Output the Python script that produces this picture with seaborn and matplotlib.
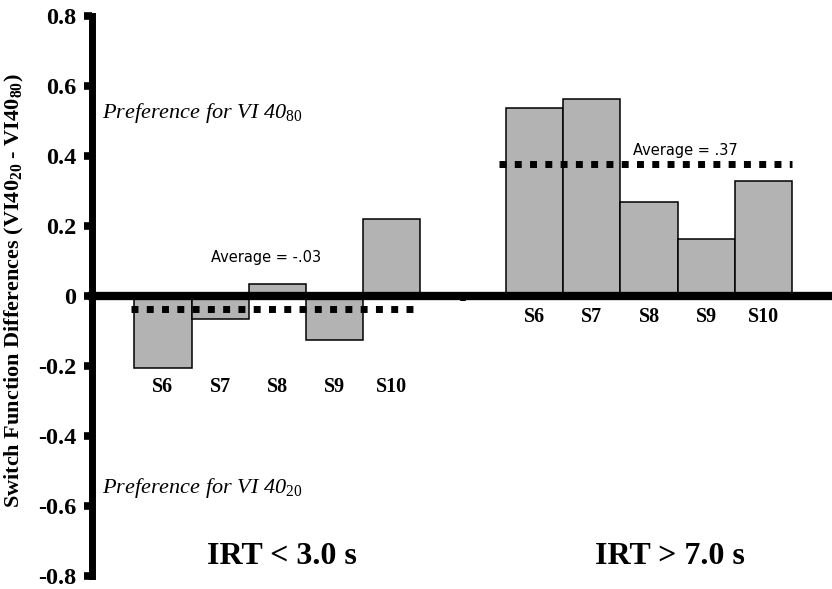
import pandas as pd
import matplotlib.pyplot as plt
import seaborn as sns

# values
subjects = ["S6", "S7", "S8", "S9", "S10"]
irt_short = [-0.205, -0.065, 0.035, -0.127, 0.22]
irt_long = [0.536, 0.562, 0.267, 0.162, 0.328]
avg_short = -0.038
avg_long = 0.376
avg_short_label = "Average = -.03"
avg_long_label = "Average = .37"
pos_short = [0, 1, 2, 3, 4]
pos_long = [6.5, 7.5, 8.5, 9.5, 10.5]
yticks = [-0.8, -0.6, -0.4, -0.2, 0, 0.2, 0.4, 0.6, 0.8]
ytick_labels = ["-0.8", "-0.6", "-0.4", "-0.2", "0", "0.2", "0.4", "0.6", "0.8"]

df = pd.DataFrame({
    "pos": pos_short + pos_long,
    "diff": irt_short + irt_long,
    "subject": subjects + subjects,
    "group": ["IRT < 3.0 s"] * 5 + ["IRT > 7.0 s"] * 5,
})

sns.set_style("white", {"text.color": "black", "axes.labelcolor": "black",
                        "xtick.color": "black", "ytick.color": "black"})
plt.rcParams["font.family"] = ["Liberation Serif", "DejaVu Serif"]
plt.rcParams["mathtext.fontset"] = "custom"
plt.rcParams["mathtext.rm"] = "Liberation Serif"
plt.rcParams["mathtext.it"] = "Liberation Serif:italic"
plt.rcParams["mathtext.bf"] = "Liberation Serif:bold"

fig = plt.figure(figsize=(8.32, 5.89), dpi=100)
ax = fig.add_axes([0.110, 0.022, 0.89, 0.951])

sns.barplot(data=df, x="pos", y="diff", native_scale=True, width=1.0,
            color="#b3b3b3", edgecolor="black", linewidth=1.1,
            saturation=1, ax=ax, zorder=2)

# average lines (square dots)
ax.plot([-0.56, 4.5], [avg_short, avg_short], color="black", lw=5,
        linestyle=(0, (1, 1.2)), dash_capstyle="butt", zorder=3)
ax.plot([5.87, 11.0], [avg_long, avg_long], color="black", lw=5,
        linestyle=(0, (1, 1.2)), dash_capstyle="butt", zorder=3)
ax.text(1.80, 0.109, avg_short_label, family="DejaVu Sans", fontsize=10.5,
        ha="center", va="center", color="black")
ax.text(9.14, 0.415, avg_long_label, family="DejaVu Sans", fontsize=10.5,
        ha="center", va="center", color="black")

# subject labels under bars
for p, s in zip(pos_short, subjects):
    ax.text(p, -0.26, s, ha="center", va="center", fontsize=14.5, fontweight="bold", color="black")
for p, s in zip(pos_long, subjects):
    ax.text(p, -0.06, s, ha="center", va="center", fontsize=14.5, fontweight="bold", color="black")

ax.text(2.08, -0.743, "IRT < 3.0 s", ha="center", va="center", fontsize=23,
        fontweight="bold", color="black")
ax.text(8.87, -0.743, "IRT > 7.0 s", ha="center", va="center", fontsize=23,
        fontweight="bold", color="black")

ax.text(-1.06, 0.523, r"Preference for VI 40$_{\mathit{80}}$", fontsize=16,
        style="italic", ha="left", va="center", color="black")
ax.text(-1.06, -0.549, r"Preference for VI 40$_{\mathit{20}}$", fontsize=16,
        style="italic", ha="left", va="center", color="black")

ax.set_xlim(-1.25, 11.7)
ax.set_ylim(-0.8, 0.8)
ax.set_yticks(yticks)
ax.set_yticklabels(ytick_labels, fontsize=17.5, fontweight="bold", color="black")
ax.set_xticks([5.25])
ax.set_xticklabels([""])
ax.tick_params(axis="y", direction="out", length=6, width=5.5, pad=5, left=True, colors="black")
ax.tick_params(axis="x", direction="out", length=3.5, width=4, bottom=True, colors="black")
ax.set_xlabel("")
ax.set_ylabel(r"Switch Function Differences (VI40$_{\mathbf{20}}$ - VI40$_{\mathbf{80}}$)",
              fontsize=16, fontweight="bold", color="black")
ax.yaxis.set_label_coords(-0.089, 0.51)

for side in ["top", "right"]:
    ax.spines[side].set_visible(False)
ax.spines["left"].set_linewidth(5)
ax.spines["left"].set_color("black")
ax.spines["bottom"].set_position(("data", 0))
ax.spines["bottom"].set_linewidth(6)
ax.spines["bottom"].set_color("black")
ax.spines["bottom"].set_zorder(4)
ax.spines["left"].set_zorder(4)

fig.savefig("out.png", dpi=100)
